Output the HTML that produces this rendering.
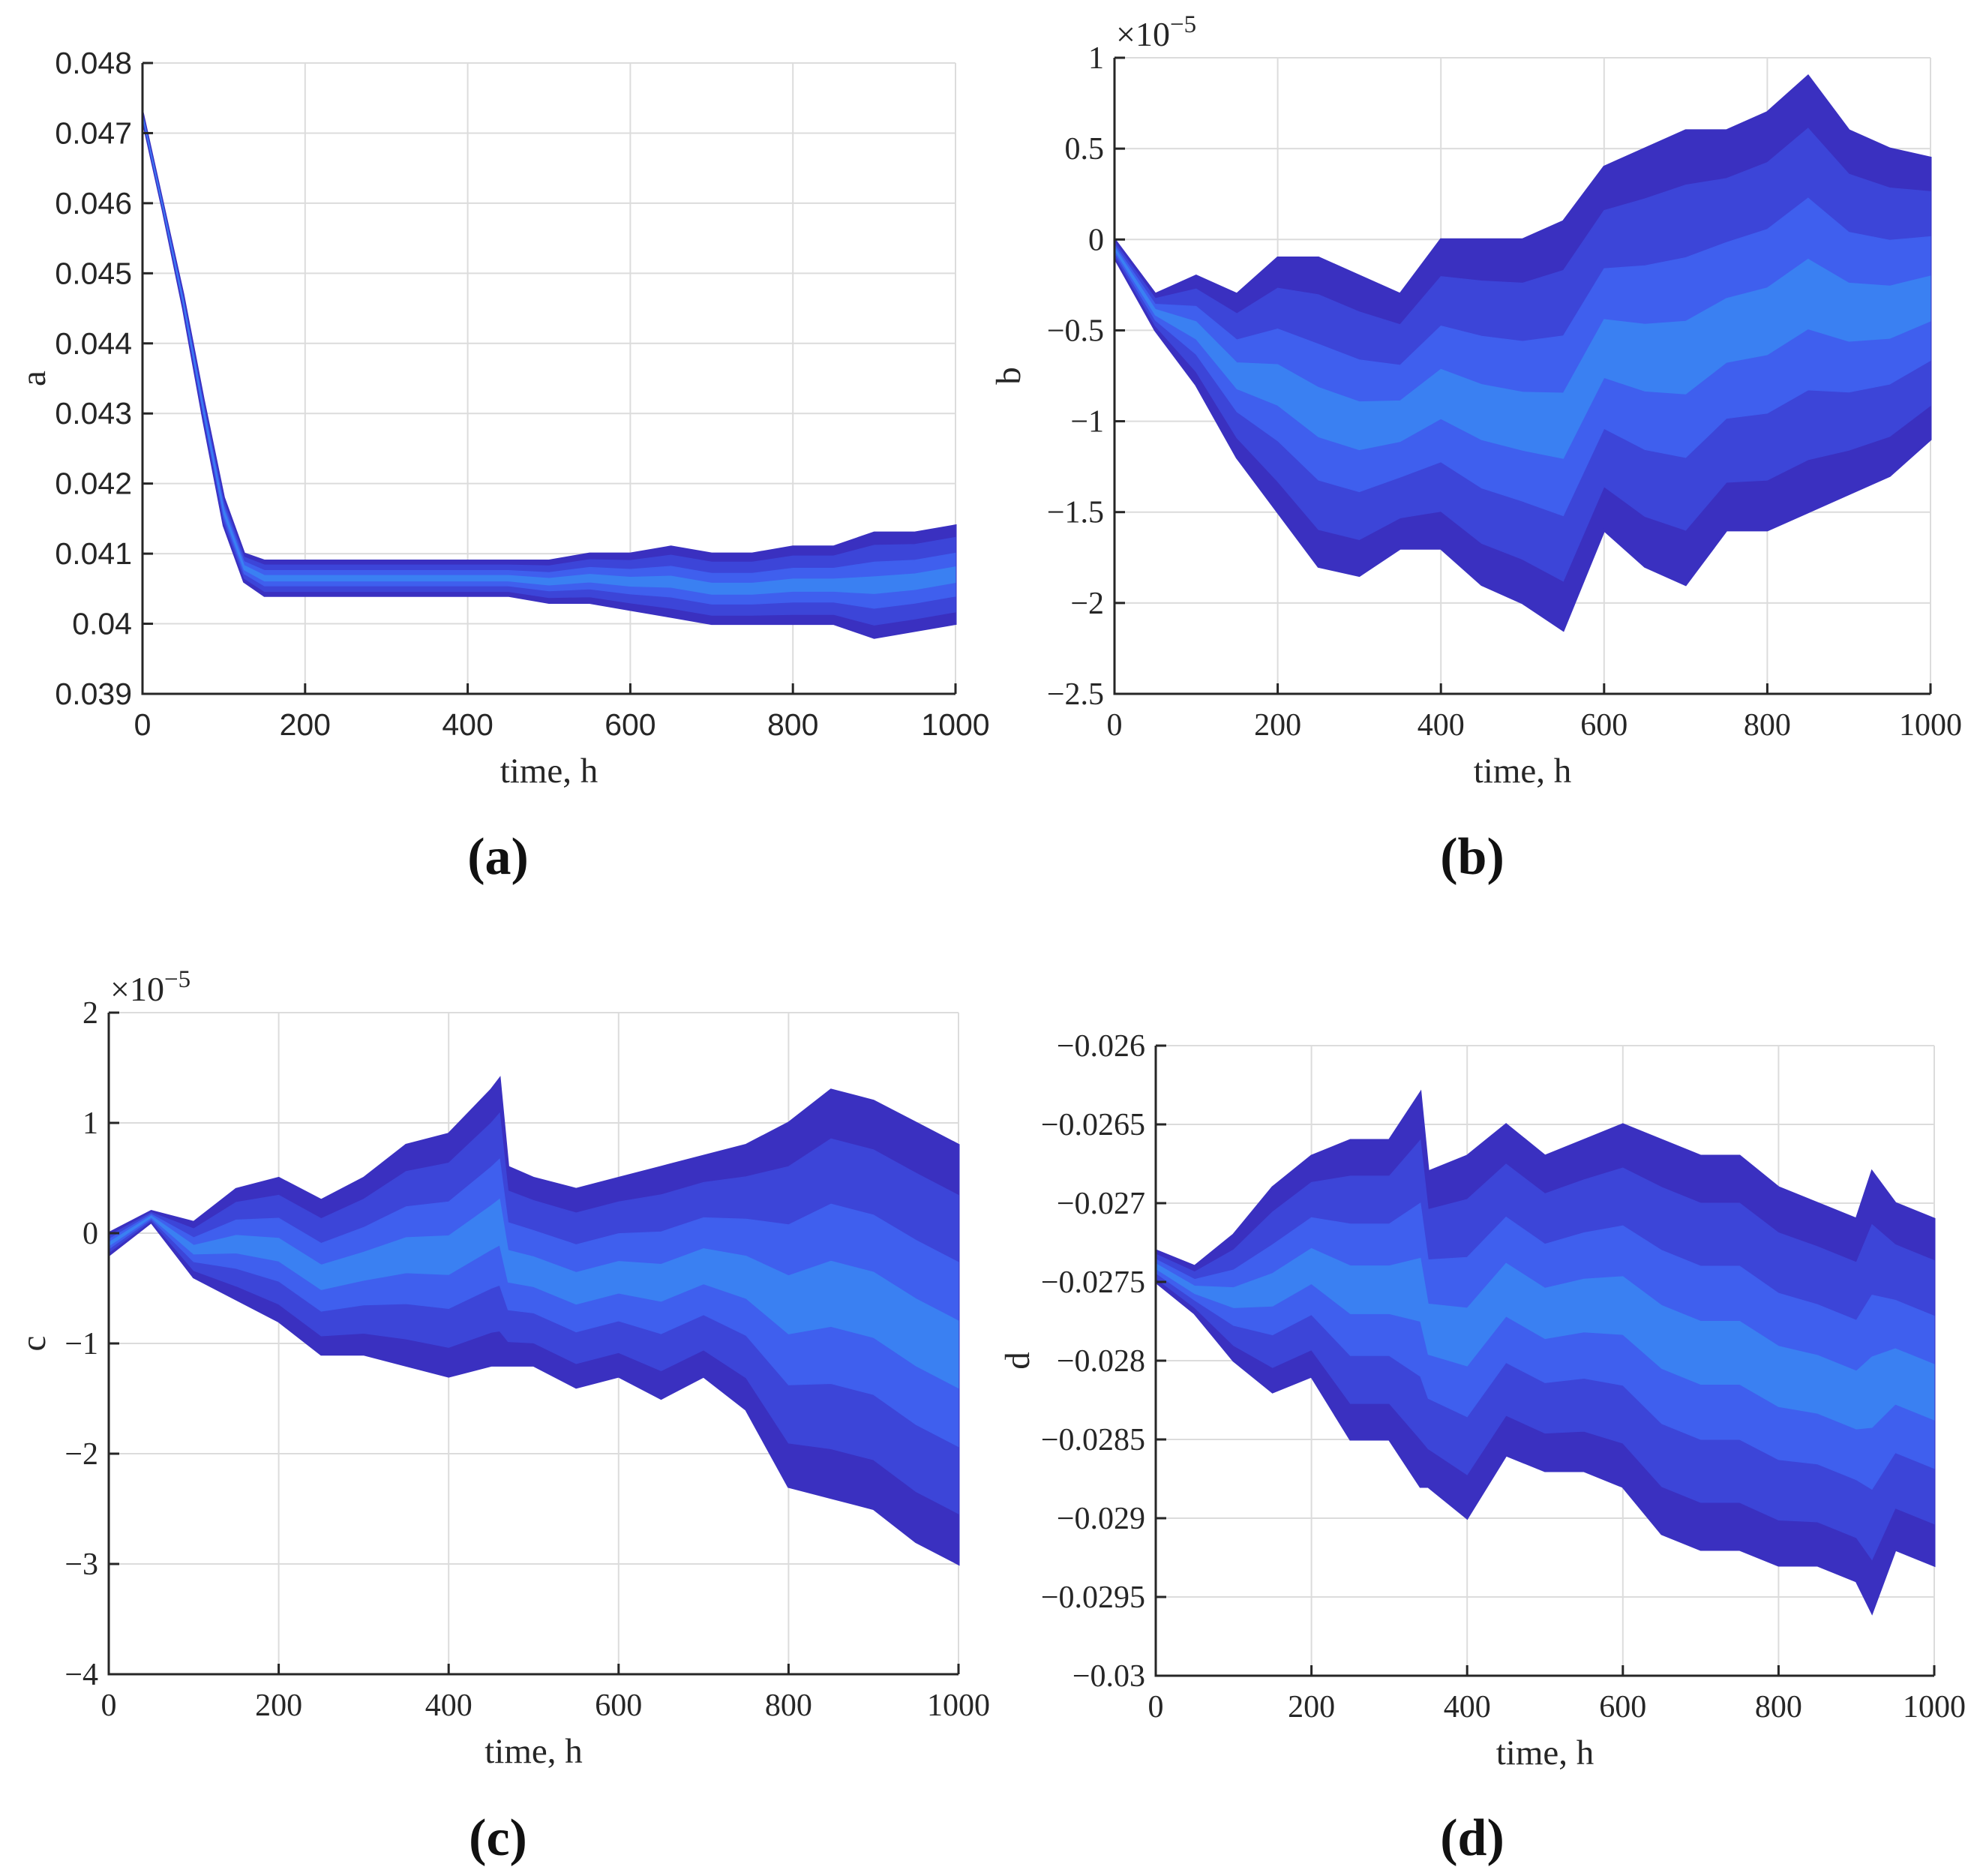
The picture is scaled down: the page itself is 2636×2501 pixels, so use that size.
<!DOCTYPE html>
<html><head><meta charset="utf-8"><style>
body{margin:0;background:#fff}
svg{display:block}
</style></head><body>
<svg id="fig" width="2636" height="2501" viewBox="0 0 2636 2501" xmlns="http://www.w3.org/2000/svg"></svg>
<script>
// ---- Chart a data ----
const aTimes = [0,25,50,75,100,125,150,200,250,300,350,400,450,500,550,600,650,700,750,800,850,900,950,1000];
const aUpper = [.0473,.0460,.0447,.0432,.0418,.0410,.0409,.0409,.0409,.0409,.0409,.0409,.0409,.0409,.0410,.0410,.0411,.0410,.0410,.0411,.0411,.0413,.0413,.0414];
const aLower = [.0472,.0459,.0445,.0429,.0414,.0406,.0404,.0404,.0404,.0404,.0404,.0404,.0404,.0403,.0403,.0402,.0401,.0400,.0400,.0400,.0400,.0398,.0399,.0400];
const aTicks = ["0.039","0.04","0.041","0.042","0.043","0.044","0.045","0.046","0.047","0.048"];
// ---- Chart b data (x1e-5) ----
const bTimes = [0,50,100,150,200,250,300,350,400,450,500,550,600,650,700,750,800,850,900,950,1000];
const bUpper = [0.0,-0.3,-0.2,-0.3,-0.1,-0.1,-0.2,-0.3,0.0,0.0,0.0,0.1,0.4,0.5,0.6,0.6,0.7,0.9,0.6,0.5,0.45];
const bLower = [-0.1,-0.5,-0.8,-1.2,-1.5,-1.8,-1.85,-1.7,-1.7,-1.9,-2.0,-2.15,-1.6,-1.8,-1.9,-1.6,-1.6,-1.5,-1.4,-1.3,-1.1];
const bTicks = ["\u22122.5","\u22122","\u22121.5","\u22121","\u22120.5","0","0.5","1"];
// ---- Chart c data (x1e-5) ----
const cTimes = [0,50,100,150,200,250,300,350,400,450,460,470,500,550,600,650,700,750,800,850,900,950,1000];
const cUpper = [0,0.2,0.1,0.4,0.5,0.3,0.5,0.8,0.9,1.3,1.4,0.6,0.5,0.4,0.5,0.6,0.7,0.8,1.0,1.3,1.2,1.0,0.8];
const cLower = [-0.2,0.1,-0.4,-0.6,-0.8,-1.1,-1.1,-1.2,-1.3,-1.2,-1.2,-1.2,-1.2,-1.4,-1.3,-1.5,-1.3,-1.6,-2.3,-2.4,-2.5,-2.8,-3.0];
const cTicks = ["\u22124","\u22123","\u22122","\u22121","0","1","2"];
// ---- Chart d data ----
const dTimes = [0,50,100,150,200,250,300,340,350,400,450,500,550,600,650,700,750,800,850,900,920,950,1000];
const dUpper = [-.0273,-.0274,-.0272,-.0269,-.0267,-.0266,-.0266,-.0263,-.0268,-.0267,-.0265,-.0267,-.0266,-.0265,-.0266,-.0267,-.0267,-.0269,-.0270,-.0271,-.0268,-.0270,-.0271];
const dLower = [-.0275,-.0277,-.0280,-.0282,-.0281,-.0285,-.0285,-.0288,-.0288,-.0290,-.0286,-.0287,-.0287,-.0288,-.0291,-.0292,-.0292,-.0293,-.0293,-.0294,-.0296,-.0292,-.0293];
const dTicks = ["\u22120.03","\u22120.0295","\u22120.029","\u22120.0285","\u22120.028","\u22120.0275","\u22120.027","\u22120.0265","\u22120.026"];
const xTicks = ["0","200","400","600","800","1000"];

const NS="http://www.w3.org/2000/svg";
const svg=document.getElementById('fig');
function mk(tag,attrs,parent){const e=document.createElementNS(NS,tag);for(const k in attrs)e.setAttribute(k,attrs[k]);(parent||svg).appendChild(e);return e;}

function chart(o){
  const g=mk('g',{});
  
  
  const X=t=>o.x0+(t-0)/(1000)*(o.x1-o.x0);
  const Y=v=>o.y1-(v-o.ymin)/(o.ymax-o.ymin)*(o.y1-o.y0);
  const font=o.serif?'"Liberation Serif", serif':'"Liberation Sans", sans-serif';
  const fs=o.serif?42:41;
  const nY=o.ticks.length;
  for(let i=0;i<nY;i++){
    const v=o.ymin+i*(o.ymax-o.ymin)/(nY-1);
    const gl=mk('line',{x1:o.x0,x2:o.x1,y1:Y(v),y2:Y(v),stroke:'#dcdcdc','stroke-width':2},g);
    
    
  }
  for(let i=0;i<xTicks.length;i++){
    const t=i*200;
    const gl=mk('line',{x1:X(t),x2:X(t),y1:o.y0,y2:o.y1,stroke:'#dcdcdc','stroke-width':2},g);
    
    
  }
  const layers=[[0,1,'#3a30c0'],[0.12,0.88,'#3c45d8'],[0.28,0.72,'#3f5fee'],[0.42,0.58,'#3a80f2']];
  layers.forEach((L,li)=>{
    const pts=[];
    for(let i=0;i<o.t.length;i++){const v=o.lo[i]+(o.up[i]-o.lo[i])*L[1];pts.push(X(o.t[i]).toFixed(1)+','+Y(v).toFixed(1));}
    for(let i=o.t.length-1;i>=0;i--){const v=o.lo[i]+(o.up[i]-o.lo[i])*L[0];pts.push(X(o.t[i]).toFixed(1)+','+Y(v).toFixed(1));}
    const p=mk('polygon',{points:pts.join(' '),fill:L[2],stroke:L[2],'stroke-width':li==0?3:1},g);
    
    
  });
  const ax=mk('path',{d:`M${o.x0},${o.y0}V${o.y1}H${o.x1}`,fill:'none',stroke:'#262626','stroke-width':3},g);
  
  
  for(let i=0;i<nY;i++){
    const v=o.ymin+i*(o.ymax-o.ymin)/(nY-1);
    mk('line',{x1:o.x0,x2:o.x0+14,y1:Y(v),y2:Y(v),stroke:'#262626','stroke-width':3},g);
    const tx=mk('text',{x:o.x0-14,y:Y(v)+14,'text-anchor':'end','font-family':font,'font-size':fs,fill:'#262626'},g);
    tx.textContent=o.ticks[i];
    
    
  }
  for(let i=0;i<xTicks.length;i++){
    const t=i*200;
    mk('line',{x1:X(t),x2:X(t),y1:o.y1,y2:o.y1-14,stroke:'#262626','stroke-width':3},g);
    const tx=mk('text',{x:X(t),y:o.y1+55,'text-anchor':'middle','font-family':font,'font-size':fs,fill:'#262626'},g);
    tx.textContent=xTicks[i];
    
    
  }
  const xl=mk('text',{x:(o.x0+o.x1)/2,y:o.y1+118,'text-anchor':'middle','font-family':'"Liberation Serif", serif','font-size':47,fill:'#262626'},g);
  xl.textContent='time, h';
  
  
  const yl=mk('text',{x:0,y:0,'text-anchor':'middle','font-family':'"Liberation Serif", serif','font-size':47,fill:'#262626',transform:`translate(${o.ylx},${(o.y0+o.y1)/2}) rotate(-90)`},g);
  yl.textContent=o.id;
  
  
  if(o.exp){
    const ex=mk('text',{x:o.x0+2,y:o.y0-16,'font-family':'"Liberation Serif", serif','font-size':46,fill:'#262626'},g);
    ex.innerHTML='×10<tspan dy="-18" font-size="33">−5</tspan>';
    
    
  }
  const cap=mk('text',{x:o.capx,y:o.capy,'text-anchor':'middle','font-family':'"Liberation Serif", serif','font-size':70,'font-weight':'bold',fill:'#111'},g);
  cap.textContent='('+o.id+')';
  
  
}
chart({id:'a',x0:190,x1:1274,y0:84,y1:925,ymin:.039,ymax:.048,t:aTimes,up:aUpper,lo:aLower,ticks:aTicks,serif:false,ylx:60,capx:664,capy:1165});
chart({id:'b',x0:1486,x1:2574,y0:77,y1:925,ymin:-2.5,ymax:1,t:bTimes,up:bUpper,lo:bLower,ticks:bTicks,serif:true,exp:true,ylx:1360,capx:1963,capy:1165});
chart({id:'c',x0:145,x1:1278,y0:1350,y1:2232,ymin:-4,ymax:2,t:cTimes,up:cUpper,lo:cLower,ticks:cTicks,serif:true,exp:true,ylx:60,capx:664,capy:2473});
chart({id:'d',x0:1541,x1:2579,y0:1394,y1:2234,ymin:-.030,ymax:-.026,t:dTimes,up:dUpper,lo:dLower,ticks:dTicks,serif:true,ylx:1372,capx:1963,capy:2473});
</script>
</body></html>
